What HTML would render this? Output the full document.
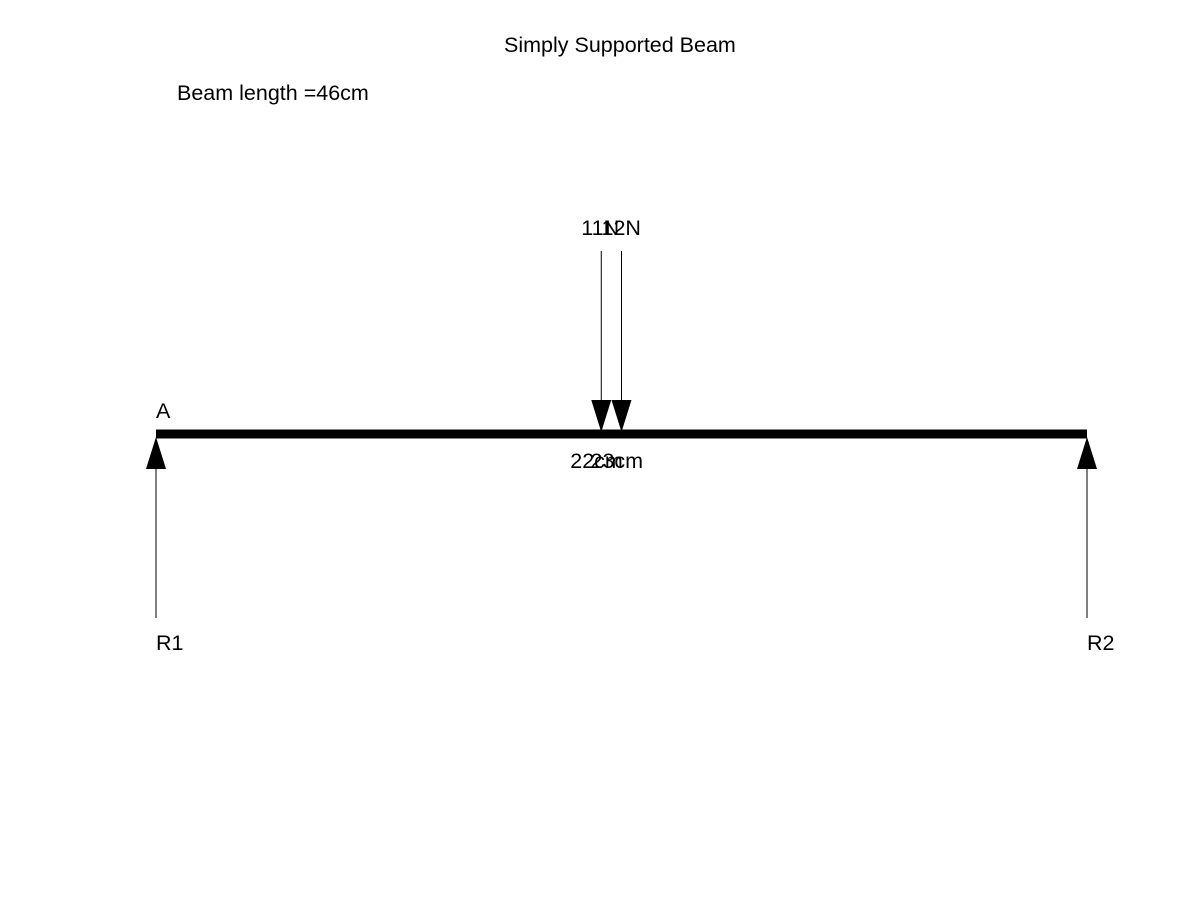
<!DOCTYPE html>
<html><head><style>
body{margin:0;background:#fff;}
svg text{font-family:"Liberation Sans",Arial,sans-serif;font-size:21.5px;fill:#000;}
</style></head><body>
<svg width="1201" height="901">
<rect width="1201" height="901" fill="#fff"/>
<text x="504" y="52">Simply Supported Beam</text>
<text x="177" y="100">Beam length =46cm</text>
<g id="g"></g>
</svg>
<script>
const beamLength = 46;
const loadPositions = [22, 23];
const loadValues = [11, 12];
const x0 = 156, x1 = 1087, beamY = 434;
function xs(v){ return x0 + v / beamLength * (x1 - x0); }
const NS = "http://www.w3.org/2000/svg";
const g = document.getElementById('g');
function mk(tag, attrs, name, txt){
  const e = document.createElementNS(NS, tag);
  for (const k in attrs) e.setAttribute(k, attrs[k]);
  
  
  if (txt !== undefined) e.textContent = txt;
  g.appendChild(e); return e;
}
mk('rect', {x: x0, y: beamY - 4.5, width: x1 - x0, height: 9, fill: '#000'}, 'beam');
mk('text', {x: x0, y: 418}, 'point-a-label', 'A');
[[x0, 'R1'], [x1, 'R2']].forEach(([x, lab]) => {
  mk('line', {x1: x, y1: 468, x2: x, y2: 618, stroke: '#000', 'stroke-width': 1}, 'reaction-line-' + lab.toLowerCase());
  mk('polygon', {points: `${x},437 ${x - 10},469 ${x + 10},469`, fill: '#000'}, 'reaction-arrow-' + lab.toLowerCase());
  mk('text', {x: x, y: 650}, 'reaction-label-' + lab.toLowerCase(), lab);
});
loadPositions.forEach((p, i) => {
  const x = xs(p);
  mk('line', {x1: x, y1: 251, x2: x, y2: 402, stroke: '#000', 'stroke-width': 1}, 'load-line-' + (i + 1));
  mk('polygon', {points: `${x - 10},400 ${x + 10},400 ${x},432`, fill: '#000'}, 'load-arrow-' + (i + 1));
  mk('text', {x: x - 20, y: 235}, 'load-value-label-' + (i + 1), loadValues[i] + 'N');
  mk('text', {x: x - 31, y: 468}, 'load-position-label-' + (i + 1), p + 'cm');
});
</script>
</body></html>
